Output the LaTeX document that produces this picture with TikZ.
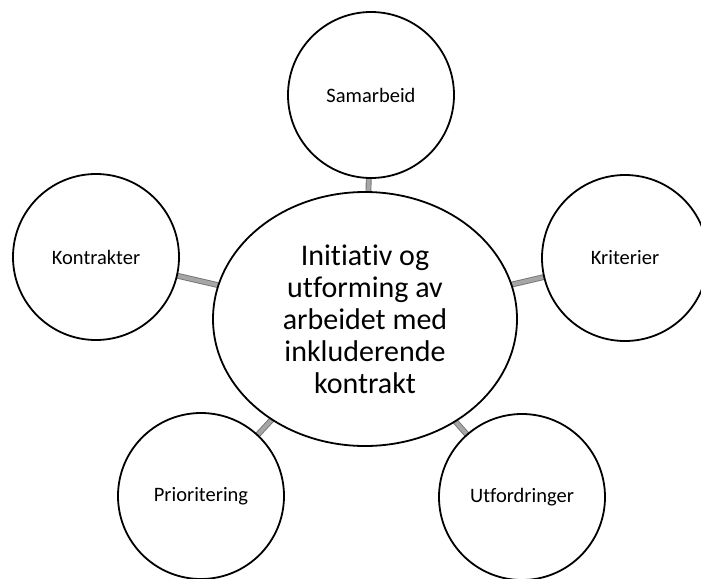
\documentclass[tikz,border=0pt]{standalone}
\usepackage{fontspec}
\setmainfont{Carlito}[RawFeature=-liga]
\usetikzlibrary{shapes.geometric,backgrounds}
\tikzset{
  hub/.style={ellipse, draw=black, line width=1.8pt, fill=white, inner sep=0pt,
    minimum width=304pt, minimum height=254pt, align=center,
    font=\fontsize{30}{32}\selectfont},
  topic/.style={circle, draw=black, line width=1.8pt, fill=white, inner sep=0pt,
    minimum size=166pt, font=\fontsize{20.5}{24}\selectfont},
  link/.style={draw=black!55, line width=0.9pt, double=black!35, double distance=4pt}
}
\begin{document}
\begin{tikzpicture}[x=1pt,y=-1pt]
  \useasboundingbox (0,0) rectangle (701,578);
  \node[hub] (c) at (365,319) {Initiativ og\\utforming av\\arbeidet med\\inkluderende\\kontrakt};
  \node[topic] (sam) at (371,95) {Samarbeid};
  \node[topic] (kon) at (96,257) {Kontrakter};
  \node[topic] (kri) at (625,258) {Kriterier};
  \node[topic] (pri) at (201,496) {Prioritering};
  \node[topic] (utf) at (522,497) {Utfordringer};
  \begin{scope}[on background layer]
    \foreach \t in {sam,kon,kri,pri,utf}
      \draw[link] (c.center) -- (\t.center);
  \end{scope}
\end{tikzpicture}
\end{document}
